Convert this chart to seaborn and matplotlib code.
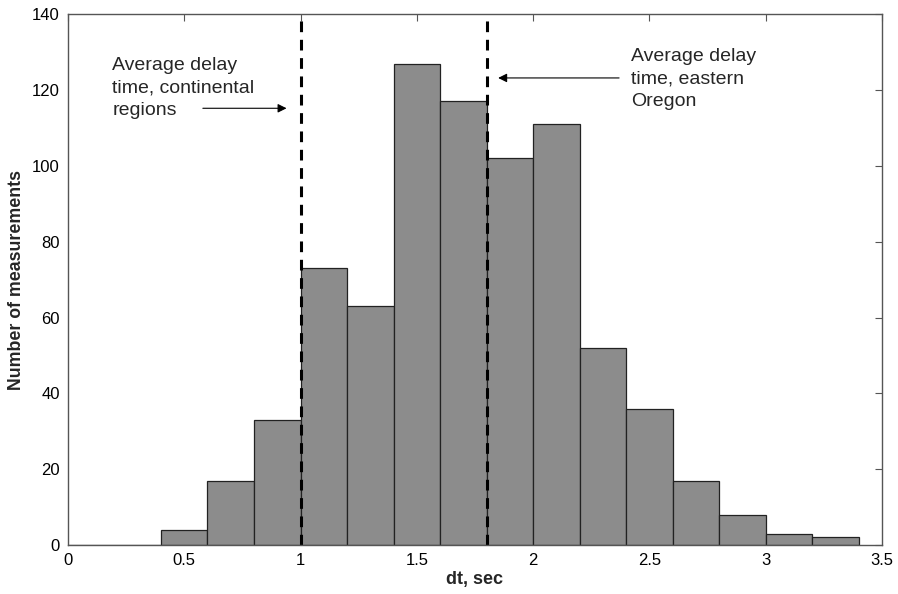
import numpy as np
import pandas as pd
import matplotlib
matplotlib.use("Agg")
import matplotlib.pyplot as plt
import seaborn as sns

# Data
bin_edges = [0.0, 0.2, 0.4, 0.6, 0.8, 1.0, 1.2, 1.4, 1.6, 1.8, 2.0, 2.2, 2.4, 2.6, 2.8, 3.0, 3.2, 3.4]
counts = [0, 0, 4, 17, 33, 73, 63, 127, 117, 102, 111, 52, 36, 17, 8, 3, 2]
avg_continental = 1.0
avg_oregon = 1.8
x_ticks = [0, 0.5, 1, 1.5, 2, 2.5, 3, 3.5]
x_tick_labels = ["0", "0.5", "1", "1.5", "2", "2.5", "3", "3.5"]
y_ticks = [0, 20, 40, 60, 80, 100, 120, 140]

centers = [(bin_edges[i] + bin_edges[i + 1]) / 2 for i in range(len(counts))]
df = pd.DataFrame({"dt": centers, "n": counts})

sns.set_style("white")
plt.rcParams['font.family'] = ['Liberation Sans', 'DejaVu Sans']

fig = plt.figure(figsize=(8.98, 5.94), dpi=100)
ax = fig.add_axes([0.0757, 0.0825, 0.9063, 0.8935])

sns.histplot(data=df, x="dt", weights="n", bins=bin_edges, ax=ax,
             color="#8c8c8c", edgecolor="#222222", linewidth=0.9, alpha=1.0)

ax.axvline(avg_continental, color="black", linestyle=(0, (3.5, 2.5)), linewidth=2.2)
ax.axvline(avg_oregon, color="black", linestyle=(0, (3.5, 2.5)), linewidth=2.2)

ax.set_xlim(0, 3.5)
ax.set_ylim(0, 140)
ax.set_xticks(x_ticks)
ax.set_xticklabels(x_tick_labels)
ax.set_yticks(y_ticks)
ax.tick_params(direction="in", length=5, width=0.8, colors="#555555",
               labelcolor="black", labelsize=12, top=True, right=True, pad=6)
for s in ax.spines.values():
    s.set_visible(True)
    s.set_color("#555555")
    s.set_linewidth(1.0)

ax.set_xlabel("dt, sec", fontsize=13, fontweight="bold", labelpad=2)
ax.set_ylabel("Number of measurements", fontsize=12.8, fontweight="bold", labelpad=5)

ax.text(0.19, 128.8, "Average delay\ntime, continental\nregions", fontsize=14,
        va="top", ha="left", linespacing=1.42)
ax.annotate("", xy=(0.94, 115.2), xytext=(0.58, 115.2),
            arrowprops=dict(arrowstyle="-|>", color="black", lw=0.8,
                            mutation_scale=13, shrinkA=0, shrinkB=0))
ax.text(2.42, 131, "Average delay\ntime, eastern\nOregon", fontsize=14,
        va="top", ha="left", linespacing=1.42)
ax.annotate("", xy=(1.85, 123.2), xytext=(2.37, 123.2),
            arrowprops=dict(arrowstyle="-|>", color="black", lw=0.8,
                            mutation_scale=13, shrinkA=0, shrinkB=0))

fig.savefig("out.png", dpi=100)
